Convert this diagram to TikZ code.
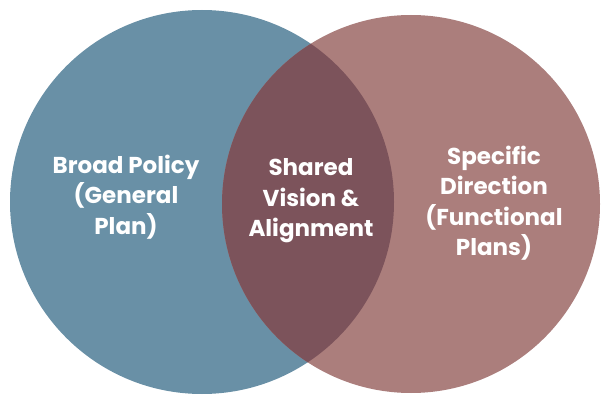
\documentclass[tikz,border=0pt]{standalone}
\usepackage{fontspec}
\setmainfont{Poppins}
\definecolor{leftblue}{HTML}{6990A6}
\definecolor{rightrose}{HTML}{AB7E7C}
\definecolor{lensc}{HTML}{7C535B}
\tikzset{
  lbl/.style={text=white, align=center, font=\fontsize{23}{30.5}\selectfont\bfseries}
}
\begin{document}
\begin{tikzpicture}[x=1pt,y=1pt]
\useasboundingbox (0,0) rectangle (602,394);
\coordinate (cl) at (202,192);
\coordinate (cr) at (411,190);
\fill[leftblue] (cl) circle (192);
\fill[rightrose] (cr) circle (189);
\begin{scope}
\clip (cl) circle (192);
\fill[lensc] (cr) circle (189);
\end{scope}
\node[lbl] (a) at (126,197) {Broad Policy\\(General\\Plan)};
\node[lbl] (b) at (311,193) {Shared\\Vision \&\\Alignment};
\node[lbl] (c) at (494,191) {Specific\\Direction\\(Functional\\Plans)};
\end{tikzpicture}
\end{document}
